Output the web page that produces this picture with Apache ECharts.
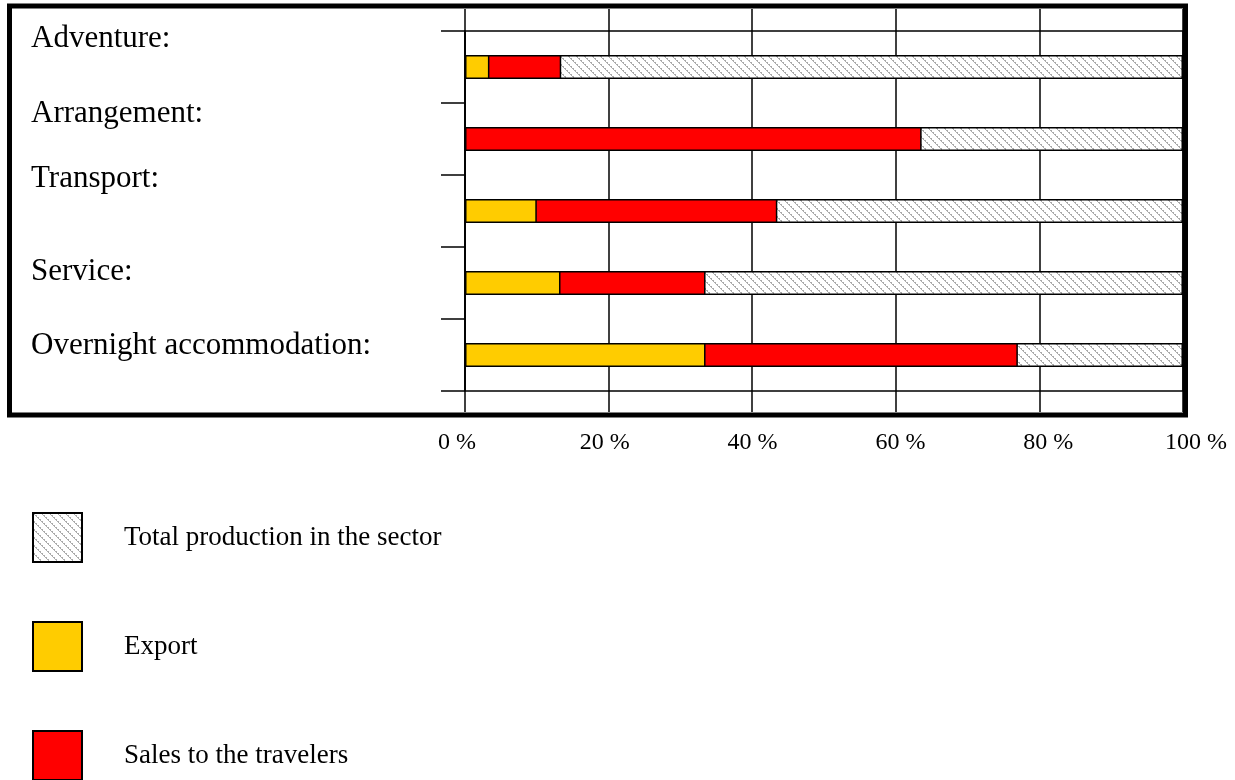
<!DOCTYPE html>
<html>
<head>
<meta charset="utf-8">
<script src="https://cdn.jsdelivr.net/npm/echarts@6/dist/echarts.min.js"></script>
<style>
html,body{margin:0;padding:0;background:#fff;}
#chart{width:1235px;height:780px;}
</style>
</head>
<body>
<div id="chart"></div>
<script>
// ---- data ----
var categories = ['Adventure:', 'Arrangement:', 'Transport:', 'Service:', 'Overnight accommodation:'];
var totalProduction = [100, 100, 100, 100, 100];          // % of total production
var salesCumulative = [13.4, 63.6, 43.5, 33.5, 77.0];     // export + sales to travelers (bar end)
var exportShare = [3.4, 0, 10.0, 13.3, 33.5];             // export
var xTicks = [0, 20, 40, 60, 80, 100];
var seriesNames = ['Total production in the sector', 'Export', 'Sales to the travelers'];

// ---- layout (not data) ----
var labelCenterY = [39, 114, 179, 272, 346];
var legendTop = [512, 621, 730];
var SERIF = '"Liberation Serif", "Times New Roman", serif';

// hatch pattern
function makeHatch() {
  var c = document.createElement('canvas');
  c.width = 8; c.height = 8;
  var g = c.getContext('2d');
  g.fillStyle = '#ffffff';
  g.fillRect(0, 0, 8, 8);
  g.fillStyle = '#ababab';
  for (var i = 0; i < 8; i++) {
    g.fillRect(i, i, 1, 1);
    if (i % 2 === 0) g.fillRect((i + 1) % 8, i, 1, 1);
  }
  return c;
}
var hatch = { image: makeHatch(), repeat: 'repeat' };

var chart = echarts.init(document.getElementById('chart'), null, { renderer: 'canvas' });

var graphics = [{
  type: 'rect',
  shape: { x: 9.5, y: 6, width: 1176, height: 409 },
  style: { fill: 'none', stroke: '#000', lineWidth: 5 },
  z: 100
}];
categories.forEach(function (name, i) {
  graphics.push({
    type: 'text',
    x: 31, y: labelCenterY[i],
    style: {
      text: name, fill: '#000',
      font: '31px ' + SERIF,
      verticalAlign: 'middle', align: 'left'
    }
  });
});

var legends = seriesNames.map(function (name, i) {
  return {
    orient: 'vertical', left: 32, top: legendTop[i], padding: 0,
    itemWidth: 49, itemHeight: 49,
    icon: 'rect',
    data: [name],
    itemStyle: { borderColor: '#000', borderWidth: 2 },
    textStyle: { color: '#000', fontSize: 27, padding: [0, 0, 0, 37], fontFamily: SERIF },
    selectedMode: false
  };
});

var border = { borderColor: '#000', borderWidth: 1.5 };

chart.setOption({
  animation: false,
  backgroundColor: '#fff',
  textStyle: { fontFamily: SERIF },
  grid: [
    { left: 465, top: 31, width: 718, height: 360, show: true, borderColor: '#000', borderWidth: 1.5, backgroundColor: 'transparent' },
    { left: 465, top: 9, width: 718, height: 403, show: false },
    { left: 457, top: 9, width: 739, height: 403, show: false }
  ],
  xAxis: [
    { type: 'value', gridIndex: 0, min: 0, max: 100, show: false },
    {
      type: 'value', gridIndex: 1, min: 0, max: 100, interval: 20,
      axisLine: { show: false }, axisTick: { show: false },
      splitLine: { show: true, lineStyle: { color: '#000', width: 1.5 } },
      axisLabel: { show: false }
    },
    {
      type: 'value', gridIndex: 2, min: 0, max: 100, interval: 20,
      axisLine: { show: false }, axisTick: { show: false },
      splitLine: { show: false },
      axisLabel: {
        show: true, margin: 19, color: '#000', fontSize: 24, fontFamily: SERIF,
        formatter: function (v) { return xTicks.indexOf(v) >= 0 ? v + ' %' : ''; }
      }
    }
  ],
  yAxis: [
    {
      type: 'category', gridIndex: 0, data: categories, inverse: true,
      axisLine: { show: true, lineStyle: { color: '#000', width: 1.5 } },
      axisTick: { show: true, inside: false, length: 24, lineStyle: { color: '#000', width: 1.5 } },
      axisLabel: { show: false },
      splitLine: { show: false }
    },
    { type: 'value', gridIndex: 1, show: false },
    { type: 'value', gridIndex: 2, show: false }
  ],
  legend: legends,
  series: [
    {
      name: seriesNames[0], type: 'bar', xAxisIndex: 0, yAxisIndex: 0,
      data: totalProduction, barWidth: 24, barGap: '-100%',
      itemStyle: Object.assign({ color: hatch }, border), z: 3
    },
    {
      name: seriesNames[2], type: 'bar', xAxisIndex: 0, yAxisIndex: 0,
      data: salesCumulative, barWidth: 24, barGap: '-100%',
      itemStyle: Object.assign({ color: '#ff0000' }, border), z: 4
    },
    {
      name: seriesNames[1], type: 'bar', xAxisIndex: 0, yAxisIndex: 0,
      data: exportShare, barWidth: 24, barGap: '-100%',
      itemStyle: Object.assign({ color: '#ffcc00' }, border), z: 5
    }
  ],
  graphic: graphics
});
</script>
</body>
</html>
